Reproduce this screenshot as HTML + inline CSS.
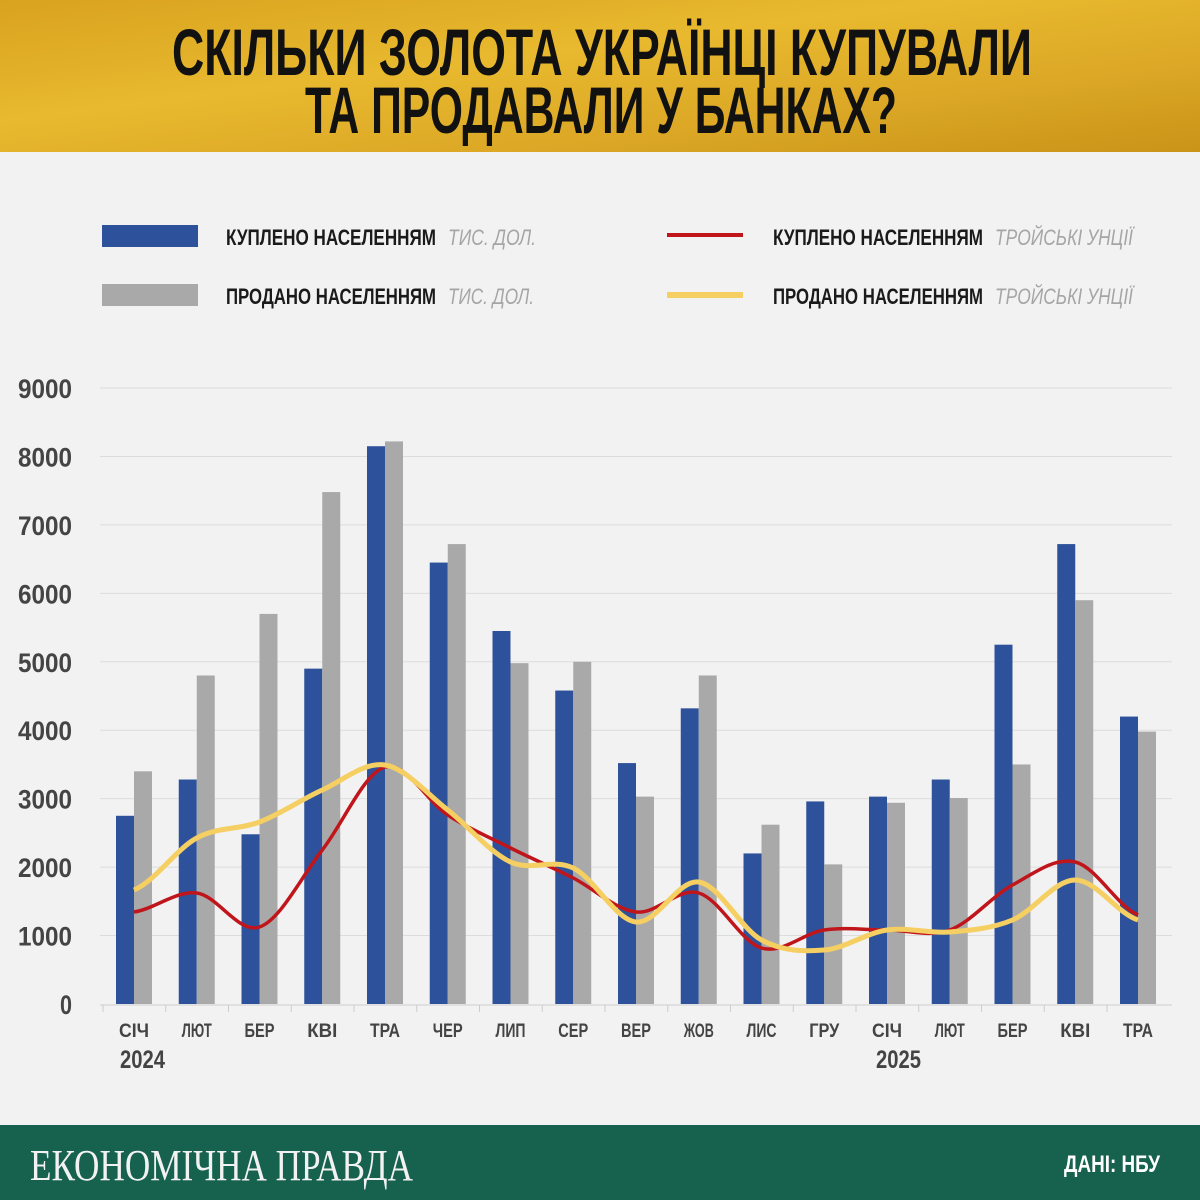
<!DOCTYPE html>
<html><head><meta charset="utf-8"><style>
body{margin:0;width:1200px;height:1200px;background:#f2f2f2;overflow:hidden}
svg{display:block}
</style></head><body>
<svg id="s" width="1200" height="1200" xmlns="http://www.w3.org/2000/svg" font-family="Liberation Sans, sans-serif">
<defs><linearGradient id="g" x1="0" y1="0" x2="1" y2="1">
<stop offset="0" stop-color="#d9a21f"/><stop offset="0.4" stop-color="#e8b92e"/><stop offset="0.7" stop-color="#dca826"/><stop offset="1" stop-color="#c99418"/></linearGradient></defs>
<rect width="1200" height="152" fill="url(#g)"/>
<text x="172" y="75" font-size="66" font-weight="bold" fill="#111" textLength="860" lengthAdjust="spacingAndGlyphs">СКІЛЬКИ ЗОЛОТА УКРАЇНЦІ КУПУВАЛИ</text>
<text x="305" y="133" font-size="66" font-weight="bold" fill="#111" textLength="592" lengthAdjust="spacingAndGlyphs">ТА ПРОДАВАЛИ У БАНКАХ?</text>
<rect x="102" y="225" width="96" height="22" fill="#2d529b"/>
<rect x="102" y="284" width="96" height="22" fill="#a9a9a9"/>
<line x1="667" y1="235" x2="743" y2="235" stroke="#c0161b" stroke-width="4"/>
<line x1="667" y1="295" x2="743" y2="295" stroke="#f5cf62" stroke-width="6"/>
<g font-size="22" font-weight="bold" fill="#1a1a1a">
<text x="226" y="245" textLength="210" lengthAdjust="spacingAndGlyphs">КУПЛЕНО НАСЕЛЕННЯМ</text>
<text x="226" y="304" textLength="210" lengthAdjust="spacingAndGlyphs">ПРОДАНО НАСЕЛЕННЯМ</text>
<text x="773" y="245" textLength="210" lengthAdjust="spacingAndGlyphs">КУПЛЕНО НАСЕЛЕННЯМ</text>
<text x="773" y="304" textLength="210" lengthAdjust="spacingAndGlyphs">ПРОДАНО НАСЕЛЕННЯМ</text>
</g>
<g font-size="22" font-style="italic" fill="#a5a5a5">
<text x="448" y="245" textLength="88" lengthAdjust="spacingAndGlyphs">ТИС. ДОЛ.</text>
<text x="448" y="304" textLength="86" lengthAdjust="spacingAndGlyphs">ТИС. ДОЛ.</text>
<text x="995" y="245" textLength="138" lengthAdjust="spacingAndGlyphs">ТРОЙСЬКІ УНЦІЇ</text>
<text x="995" y="304" textLength="138" lengthAdjust="spacingAndGlyphs">ТРОЙСЬКІ УНЦІЇ</text>
</g>
<g id="chart"></g>
<rect y="1125" width="1200" height="75" fill="#17614f"/>
<text x="30" y="1180" font-family="Liberation Serif, serif" font-size="44" fill="#f2f2f2" textLength="383" lengthAdjust="spacingAndGlyphs">ЕКОНОМІЧНА ПРАВДА</text>
<text x="1064" y="1172" font-size="24" font-weight="bold" fill="#fff" textLength="96" lengthAdjust="spacingAndGlyphs">ДАНІ: НБУ</text>
</svg>
<script>
var c=document.getElementById('chart'),h='';
function Y(v){return 1004-v*0.06844;}
for(var k=0;k<=9;k++){var y=Y(k*1000);
 if(k>0)h+='<line x1="100" x2="1172" y1="'+y+'" y2="'+y+'" stroke="#dcdcdc" stroke-width="1"/>';
 h+='<text x="72" y="'+(y+10)+'" text-anchor="end" font-size="27" font-weight="bold" fill="#444" textLength="'+(k?54:12)+'" lengthAdjust="spacingAndGlyphs">'+k*1000+'</text>';}
h+='<line x1="100" x2="1172" y1="1005" y2="1005" stroke="#cfcfcf"/>';
var B=[2750,3280,2480,4900,8150,6450,5450,4580,3520,4320,2200,2960,3030,3280,5250,6720,4200];
var G=[3400,4800,5700,7480,8220,6720,4980,5000,3030,4800,2620,2040,2940,3010,3500,5900,3980];
var M=['СІЧ','ЛЮТ','БЕР','КВІ','ТРА','ЧЕР','ЛИП','СЕР','ВЕР','ЖОВ','ЛИС','ГРУ','СІЧ','ЛЮТ','БЕР','КВІ','ТРА'];
var R=[912,893,927,850,767,815,848,878,912,893,948,930,930,930,885,862,915];
var W=[890,838,822,790,765,810,862,868,922,882,940,950,930,932,920,880,920];
for(var i=0;i<17;i++){var x=134+62.75*i;
 h+='<rect x="'+(x-18)+'" y="'+Y(B[i])+'" width="18" height="'+(1004-Y(B[i]))+'" fill="#2d529b"/>';
 h+='<rect x="'+x+'" y="'+Y(G[i])+'" width="18" height="'+(1004-Y(G[i]))+'" fill="#a9a9a9"/>';
 h+='<line x1="'+(x-31)+'" x2="'+(x-31)+'" y1="1005" y2="1012" stroke="#ccc"/>';
 h+='<text x="'+x+'" y="1037" text-anchor="middle" font-size="19" font-weight="bold" fill="#444" textLength="'+(M[i].length*8+6)+'" lengthAdjust="spacingAndGlyphs">'+M[i]+'</text>';}
h+='<text x="120" y="1068" font-size="25" font-weight="bold" fill="#444" textLength="45" lengthAdjust="spacingAndGlyphs">2024</text>';
h+='<text x="876" y="1068" font-size="25" font-weight="bold" fill="#444" textLength="45" lengthAdjust="spacingAndGlyphs">2025</text>';
function path(P){var d='M'+(134)+','+P[0];for(var i=0;i<16;i++){var x0=134+62.75*(i-1),x1=134+62.75*i,x2=x1+62.75,x3=x2+62.75;
 var y0=P[Math.max(i-1,0)],y1=P[i],y2=P[i+1],y3=P[Math.min(i+2,16)];
 d+=' C'+(x1+(x2-x0)/6)+','+(y1+(y2-y0)/6)+' '+(x2-(x3-x1)/6)+','+(y2-(y3-y1)/6)+' '+x2+','+y2;}return d;}
h+='<path d="'+path(R)+'" fill="none" stroke="#c0161b" stroke-width="3.5"/>';
h+='<path d="'+path(W)+'" fill="none" stroke="#f5cf62" stroke-width="5"/>';
c.innerHTML=h;
</script>
</body></html>
